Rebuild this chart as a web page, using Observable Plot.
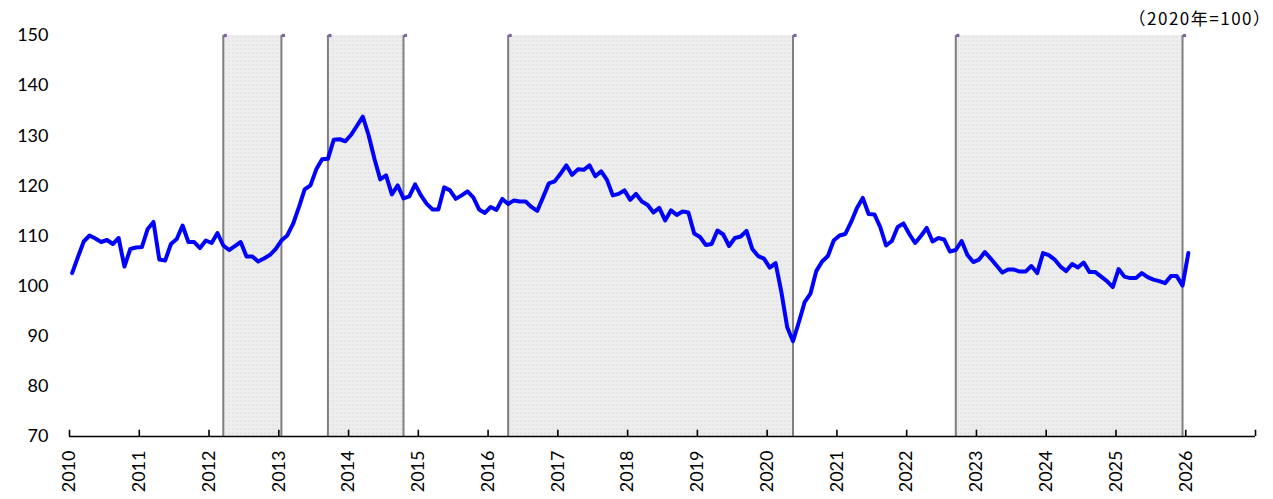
<!DOCTYPE html>
<html><head><meta charset="utf-8">
<script src="https://cdn.jsdelivr.net/npm/d3@7"></script>
<script src="https://cdn.jsdelivr.net/npm/@observablehq/plot@0.6"></script>
<style>body{margin:0;background:#fff}</style>
</head><body><div id="chart"></div><script>
// Monthly index values (2020 = 100), Jan..Dec of each year
const v2010 = [102.6,105.8,108.9,110.1,109.5,108.8,109.2,108.4,109.6,103.9,107.4,107.7];
const v2011 = [107.8,111.4,112.8,105.3,105.1,108.4,109.4,112.1,108.8,108.8,107.6,109.1];
const v2012 = [108.6,110.6,108.1,107.2,108.0,108.8,105.9,105.9,104.9,105.5,106.2,107.4];
const v2013 = [109.1,110.1,112.4,115.7,119.3,120.1,123.3,125.3,125.4,129.2,129.3,128.9];
const v2014 = [130.2,132.0,133.8,130.1,125.4,121.3,122.1,118.3,120.1,117.5,117.9,120.3];
const v2015 = [118.1,116.4,115.3,115.3,119.7,119.1,117.4,118.1,118.9,117.7,115.3,114.6];
const v2016 = [115.8,115.2,117.4,116.4,117.1,116.9,116.9,115.8,115.0,117.7,120.5,120.9];
const v2017 = [122.4,124.1,122.2,123.3,123.2,124.1,121.9,122.9,121.2,118.1,118.4,119.1];
const v2018 = [117.2,118.4,116.9,116.2,114.7,115.6,113.1,115.1,114.2,114.9,114.7,110.5];
const v2019 = [109.8,108.2,108.4,111.1,110.3,108.0,109.6,109.9,111.0,107.4,106.0,105.5];
const v2020 = [103.7,104.6,98.8,91.8,89.0,92.8,96.8,98.5,103.0,104.9,106.0,109.1];
const v2021 = [110.1,110.4,112.8,115.6,117.6,114.4,114.3,111.8,108.1,109.0,111.8,112.5];
const v2022 = [110.4,108.6,110.0,111.6,108.9,109.6,109.3,106.9,107.2,109.0,106.2,104.8];
const v2023 = [105.3,106.8,105.5,104.1,102.7,103.3,103.3,102.9,102.9,104.0,102.6,106.6];
const v2024 = [106.2,105.3,103.9,103.0,104.4,103.7,104.7,102.8,102.8,101.9,101.0,99.8];
const v2025 = [103.4,101.9,101.6,101.6,102.6,101.8,101.3,101.0,100.6,102.0,102.0,100.1];
const v2026 = [106.6];
const yearSeries = [
  [2010,v2010],[2011,v2011],[2012,v2012],[2013,v2013],[2014,v2014],[2015,v2015],
  [2016,v2016],[2017,v2017],[2018,v2018],[2019,v2019],[2020,v2020],[2021,v2021],
  [2022,v2022],[2023,v2023],[2024,v2024],[2025,v2025],[2026,v2026]
];
// Shaded periods (start month, end month)
const bandStarts = ["2012-03","2013-09","2016-04","2022-09"];
const bandEnds   = ["2013-01","2014-10","2020-05","2025-12"];
// Tick labels
const xTicks = [2010,2011,2012,2013,2014,2015,2016,2017,2018,2019,2020,2021,2022,2023,2024,2025,2026,2027];
const xLabels = [2010,2011,2012,2013,2014,2015,2016,2017,2018,2019,2020,2021,2022,2023,2024,2025,2026];
const yTicks = [70,80,90,100,110,120,130,140,150];
const unitLabel = "（2020年=100）";

// month position (mid-month) in decimal years
const pos = (y, m) => y + (m - 1 + 0.45) / 12;
const posStr = s => { const [y, m] = s.split("-").map(Number); return pos(y, m); };

const series = [];
for (const [yr, vals] of yearSeries) vals.forEach((v, i) => series.push({x: pos(yr, i + 1), v}));
const bands = bandStarts.map((s, i) => ({x1: posStr(s), x2: posStr(bandEnds[i])}));
const edges = bands.flatMap(b => [b.x1, b.x2]);

const chart = Plot.plot({
  width: 1273, height: 499,
  marginLeft: 69, marginRight: 18, marginTop: 35, marginBottom: 63,
  style: {fontFamily: "Lato, 'Open Sans', sans-serif", fontSize: "18px", color: "#000", background: "#fff"},
  x: {domain: [2010, 2027], axis: null},
  y: {domain: [70, 150], axis: null},
  marks: [
    Plot.rect(bands, {x1: "x1", x2: "x2", fill: "url(#dots)"}),
    Plot.ruleX(edges, {stroke: "#7f7f7f", strokeWidth: 2}),
    Plot.line(series, {x: "x", y: "v", stroke: "#0000ff", strokeWidth: 4, strokeLinejoin: "round", strokeLinecap: "round"}),
    Plot.ruleY([70], {stroke: "#000", strokeWidth: 1.6}),
    Plot.ruleX(xTicks, {y1: 70, y2: 71.25, stroke: "#000", strokeWidth: 1.6}),
    Plot.dot(edges, {x: d => d, frameAnchor: "top", symbol: "square", r: 1.8, dx: 2, fill: "#8064a2", stroke: "none"}),
    Plot.axisY(yTicks, {tickSize: 0, tickPadding: 21, fontSize: 18, label: null, tickFormat: d => String(d)}),
    Plot.axisX(xLabels, {tickSize: 0, tickPadding: 14, tickRotate: -90, fontSize: 18, label: null, tickFormat: d => String(d)}),
    Plot.text([unitLabel], {frameAnchor: "top-right", text: d => d, dx: 16, dy: -23, textAnchor: "end", fontSize: 17, fontFamily: "'Noto Sans CJK JP', sans-serif", fill: "#000"})
  ]
});
const ns = "http://www.w3.org/2000/svg";
const defs = document.createElementNS(ns, "defs");
defs.innerHTML = '<pattern id="dots" width="4" height="4" patternUnits="userSpaceOnUse"><rect width="4" height="4" fill="#ededed"/><circle cx="1" cy="1" r="0.7" fill="#d9d9d9"/></pattern>';
chart.insertBefore(defs, chart.firstChild);
chart.querySelectorAll("text").forEach(t => { if (t.textContent === unitLabel) t.setAttribute("letter-spacing", "1.5"); });
document.getElementById("chart").appendChild(chart);
</script></body></html>
